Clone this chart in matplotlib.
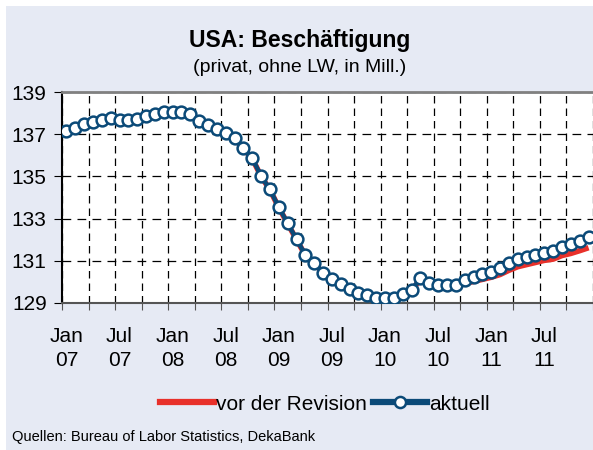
import numpy as np
import matplotlib
matplotlib.use("Agg")
import matplotlib.pyplot as plt
from matplotlib.patches import Rectangle
from matplotlib.lines import Line2D

plt.rcParams['font.family'] = ['Liberation Sans', 'DejaVu Sans']

# monthly values Jan 07 .. Dec 11 (Mill.)
aktuell = [137.17, 137.28, 137.48, 137.56, 137.66, 137.75, 137.66, 137.66, 137.74, 137.88,
           137.96, 138.04, 138.04, 138.04, 137.94, 137.64, 137.45, 137.26, 137.06, 136.83,
           136.33, 135.86, 135.01, 134.38, 133.53, 132.78, 132.02, 131.28, 130.90, 130.43,
           130.14, 129.88, 129.67, 129.48, 129.38, 129.22, 129.22, 129.24, 129.43, 129.63,
           130.17, 129.94, 129.85, 129.85, 129.85, 130.09, 130.22, 130.36, 130.48, 130.64,
           130.91, 131.07, 131.16, 131.27, 131.38, 131.46, 131.67, 131.78, 131.94, 132.14]
vor_revision = [137.10, 137.22, 137.45, 137.55, 137.65, 137.74, 137.66, 137.66, 137.74, 137.87,
                137.95, 138.02, 138.03, 138.02, 137.92, 137.62, 137.42, 137.22, 137.03, 136.80,
                136.30, 135.84, 135.00, 134.36, 133.52, 132.76, 132.00, 131.26, 130.88, 130.42,
                130.12, 129.86, 129.65, 129.46, 129.36, 129.20, 129.20, 129.22, 129.40, 129.60,
                130.12, 129.88, 129.80, 129.78, 129.75, 129.93, 130.02, 130.12, 130.22, 130.35,
                130.55, 130.72, 130.82, 130.92, 131.02, 131.08, 131.25, 131.35, 131.48, 131.62]
label_pos = [0, 6, 12, 18, 24, 30, 36, 42, 48, 54]
labels = ['Jan\n07', 'Jul\n07', 'Jan\n08', 'Jul\n08', 'Jan\n09', 'Jul\n09',
          'Jan\n10', 'Jul\n10', 'Jan\n11', 'Jul\n11']
yticks = [129, 131, 133, 135, 137, 139]

blue = '#0B4A78'
red = '#E8302A'
x = np.arange(len(aktuell))

fig = plt.figure(figsize=(5.93, 4.5), dpi=100)
fig.patch.set_facecolor('white')
fig.add_artist(Rectangle((6/593, 0), 1, 444/450, transform=fig.transFigure,
                         facecolor='#E6EAF4', edgecolor='none', zorder=-10))

ax = fig.add_axes([62/593, 1-303/450, 531/593, 211/450])
ax.set_facecolor('white')

ax.plot(x, vor_revision, color=red, lw=4, zorder=3, solid_capstyle='butt')
ax.plot(x, aktuell, color=blue, lw=3.2, marker='o', ms=8.5, mfc='white', mec=blue,
        mew=1.8, zorder=4)

ax.set_xlim(-0.5, 58.83)
ax.set_ylim(129, 139)
ax.set_yticks(yticks)
ax.set_xticks(np.arange(-0.5, 60, 3))
ax.set_xticklabels([])
ax.set_xticks(label_pos, labels, minor=True)
ax.tick_params(axis='x', which='major', length=5, direction='out', color='#555555')
ax.tick_params(axis='x', which='minor', length=0, pad=17, labelsize=15)
ax.tick_params(axis='y', length=6, direction='out', labelsize=15, pad=5)
for t in ax.get_xticklabels(minor=True):
    t.set_linespacing(1.35)

ax.grid(axis='x', which='major', color='black', lw=0.9, linestyle=(0, (6, 4)))
ax.grid(axis='y', which='major', color='black', lw=0.9, linestyle=(0, (7, 5)))
ax.set_axisbelow(True)

ax.spines['right'].set_visible(False)
ax.spines['top'].set_color('#808080')
ax.spines['top'].set_linewidth(2)
ax.spines['left'].set_color('black')
ax.spines['left'].set_linewidth(1.5)
ax.spines['bottom'].set_color('#555555')
ax.spines['bottom'].set_linewidth(1.5)

fig.text(300/593, 1-40/450, 'USA: Beschäftigung', ha='center', va='center',
         fontsize=16.5, fontweight='bold')
fig.text(300/593, 1-68/450, '(privat, ohne LW, in Mill.)', ha='center', va='center',
         fontsize=14)

handles = [Line2D([], [], color=red, lw=4.5),
           Line2D([], [], color=blue, lw=4.5, marker='o', ms=8, mfc='white', mec=blue, mew=1.8)]
fig.legend(handles, ['vor der Revision', 'aktuell'], loc='center',
           bbox_to_anchor=(325/593, 1-404/450), ncol=2, frameon=False, fontsize=15,
           handlelength=2.6, handletextpad=0.1, columnspacing=0.3)

fig.text(12/593, 1-437/450, 'Quellen: Bureau of Labor Statistics, DekaBank',
         ha='left', va='center', fontsize=10.5)

fig.savefig('out.png', dpi=100)
